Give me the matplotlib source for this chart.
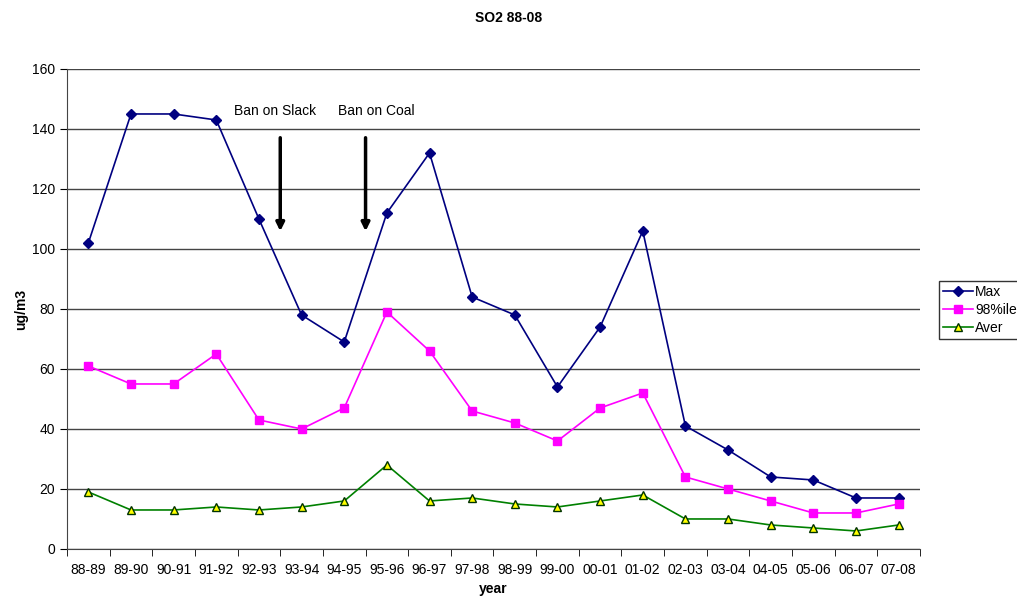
import numpy as np
import matplotlib.pyplot as plt

plt.rcParams['font.family'] = ['Liberation Sans', 'DejaVu Sans']

years = ['88-89', '89-90', '90-91', '91-92', '92-93', '93-94', '94-95', '95-96',
         '96-97', '97-98', '98-99', '99-00', '00-01', '01-02', '02-03', '03-04',
         '04-05', '05-06', '06-07', '07-08']
max_vals = [102, 145, 145, 143, 110, 78, 69, 112, 132, 84, 78, 54, 74, 106, 41, 33, 24, 23, 17, 17]
p98_vals = [61, 55, 55, 65, 43, 40, 47, 79, 66, 46, 42, 36, 47, 52, 24, 20, 16, 12, 12, 15]
aver_vals = [19, 13, 13, 14, 13, 14, 16, 28, 16, 17, 15, 14, 16, 18, 10, 10, 8, 7, 6, 8]

fig = plt.figure(figsize=(10.17, 6.04), dpi=100)
ax = fig.add_axes([0.0659, 0.0911, 0.8387, 0.7947])

x = np.arange(len(years))
ax.plot(x, max_vals, color='#000080', lw=1.2, marker='D', ms=5,
        mfc='#000080', mec='#000080', label='Max')
ax.plot(x, p98_vals, color='#FF00FF', lw=1.2, marker='s', ms=6,
        mfc='#FF00FF', mec='#FF00FF', label='98%ile')
ax.plot(x, aver_vals, color='#008000', lw=1.2, marker='^', ms=6,
        mfc='#FFFF00', mec='#003300', mew=1, label='Aver')

ax.set_xlim(-0.5, len(years) - 0.5)
ax.set_ylim(0, 160)
ax.set_yticks(np.arange(0, 161, 20))
ax.set_xticks(x)
ax.set_xticklabels(years, fontsize=10)
ax.set_xticks(np.arange(-0.5, len(years), 1), minor=True)
ax.tick_params(axis='x', which='major', length=0, pad=10)
ax.tick_params(axis='x', which='minor', length=5, color='black')
ax.tick_params(axis='y', labelsize=10, length=5)
ax.yaxis.grid(True, color='#444444', lw=1)
ax.set_axisbelow(True)
for s in ['top', 'right']:
    ax.spines[s].set_visible(False)
ax.spines['left'].set_color('#444444')
ax.spines['bottom'].set_color('#444444')

ax.set_xlabel('year', fontsize=10, fontweight='bold', labelpad=4)
ax.set_ylabel('ug/m3', fontsize=10, fontweight='bold', labelpad=3)
fig.text(0.5, 0.97, 'SO2 88-08', ha='center', va='center', fontsize=10, fontweight='bold')

# annotations
ax.annotate('', xy=(4.5, 105), xytext=(4.5, 138),
            arrowprops=dict(arrowstyle='-|>', color='black', lw=2.5, mutation_scale=12))
ax.annotate('', xy=(6.5, 105), xytext=(6.5, 138),
            arrowprops=dict(arrowstyle='-|>', color='black', lw=2.5, mutation_scale=12))
ax.text(4.38, 146, 'Ban on Slack', ha='center', va='center', fontsize=10)
ax.text(6.75, 146, 'Ban on Coal', ha='center', va='center', fontsize=10)

leg = fig.legend(loc='center left', bbox_to_anchor=(0.916, 0.487), fontsize=10,
                 frameon=True, fancybox=False, edgecolor='black',
                 borderpad=0.3, labelspacing=0.3, handlelength=2.2, handletextpad=0.15)
leg.get_frame().set_linewidth(1)

fig.savefig('out.png', dpi=100)
